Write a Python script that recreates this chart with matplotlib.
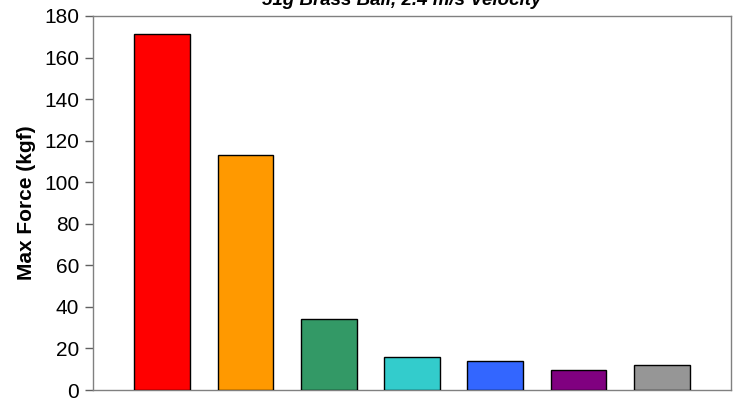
import matplotlib
matplotlib.use("Agg")
import matplotlib.pyplot as plt
import numpy as np

plt.rcParams['font.family'] = ['Liberation Sans', 'DejaVu Sans']

# data
categories = ["1", "2", "3", "4", "5", "6", "7"]
max_force = [171.3, 113.1, 34.2, 15.9, 13.9, 9.5, 11.9]
bar_colors = ["#ff0000", "#ff9900", "#339966", "#33cccc", "#3366ff", "#800080", "#969696"]
y_ticks = [0, 20, 40, 60, 80, 100, 120, 140, 160, 180]

fig = plt.figure(figsize=(7.42, 3.98), dpi=100)
ax = fig.add_axes([93 / 742, 8 / 398, 638 / 742, 374 / 398])

x = np.arange(len(categories))
ax.bar(x, max_force, width=0.67, color=bar_colors, edgecolor="black", linewidth=1.0, zorder=3)

ax.set_xlim(-0.83, len(categories) - 1 + 0.83)
ax.set_ylim(0, 180)
ax.set_yticks(y_ticks)
ax.set_xticks([])
ax.tick_params(axis="y", labelsize=15, length=6, width=1, color="#606060", pad=4)

for side in ["left", "right", "top", "bottom"]:
    ax.spines[side].set_color("#808080")
    ax.spines[side].set_linewidth(1.0)

ax.set_ylabel("Max Force (kgf)", fontsize=15, fontweight="bold", labelpad=6)

fig.text(402 / 742, 1 - 5 / 398, "51g Brass Ball, 2.4 m/s Velocity", ha="center", va="baseline",
         fontsize=13.5, fontweight="bold", fontstyle="italic")

plt.savefig("out.png", dpi=100)
